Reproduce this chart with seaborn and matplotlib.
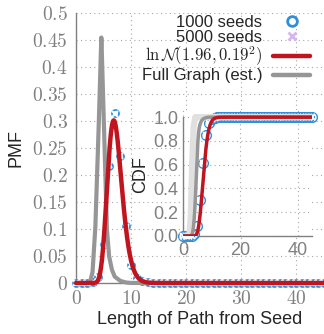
import math
import numpy as np
import pandas as pd
import seaborn as sns
import matplotlib
matplotlib.use("Agg")
import matplotlib.pyplot as plt
from matplotlib.lines import Line2D
from matplotlib.ticker import FixedLocator, FuncFormatter

# ---- data -------------------------------------------------------------
lengths = [0, 1, 2, 3, 4, 5, 6, 7, 8, 9, 10, 11, 12, 13, 14, 15, 16, 17, 18, 19,
           20, 21, 22, 23, 24, 25, 26, 27, 28, 29, 30, 31, 32, 33, 34, 35, 36, 37,
           38, 39, 40, 41, 42, 43, 44, 45]
pmf_1000 = [0, 0, 0, 0.002, 0.011, 0.072, 0.217, 0.315, 0.235, 0.106, 0.033, 0.010,
            0.003, 0.001, 0, 0, 0, 0, 0, 0, 0, 0, 0, 0, 0, 0, 0, 0, 0, 0, 0, 0, 0,
            0, 0, 0, 0, 0, 0, 0, 0, 0, 0, 0, 0, 0]
pmf_5000 = [0, 0, 0, 0.002, 0.012, 0.070, 0.219, 0.313, 0.236, 0.104, 0.034, 0.009,
            0.003, 0.001, 0, 0, 0, 0, 0, 0, 0, 0, 0, 0, 0, 0, 0, 0, 0, 0, 0, 0, 0,
            0, 0, 0, 0, 0, 0, 0, 0, 0, 0, 0, 0, 0]

# fitted log-normal
ln_mu = 1.96
ln_sigma = 0.19

# full-graph estimate
full_x = [0, 2.5, 3.0, 3.5, 4.0, 4.6, 5.2, 5.6, 6.0, 6.5, 7.0, 8.0, 9.0, 10.0, 45]
full_y = [0, 0.0, 0.02, 0.10, 0.25, 0.457, 0.25, 0.10, 0.05, 0.025, 0.012, 0.004,
          0.001, 0.0, 0.0]

# reference CDF band in the inset
band_x = [0, 2.2, 2.7, 3.2, 3.7, 4.3, 45]
band_y = [0, 0.0, 0.15, 0.6, 0.92, 1.0, 1.0]

y_ticks = [0, 0.05, 0.1, 0.15, 0.2, 0.25, 0.3, 0.35, 0.4, 0.45, 0.5]
x_ticks = [0, 10, 20, 30, 40]
cdf_y_ticks = [0.0, 0.2, 0.4, 0.6, 0.8, 1.0]
cdf_x_ticks = [0, 20, 40]

# ---- style ------------------------------------------------------------
sns.set_style("white")
plt.rcParams["font.family"] = ["Liberation Sans", "DejaVu Sans"]
plt.rcParams["mathtext.fontset"] = "cm"

BLUE = "#2f8fd8"
LAV = "#d7b5f0"
RED = "#c0141e"
GRAY = "#969696"
LIGHT = "#e0e0e0"
AXIS = "#808080"

W, H = 324, 334
fig = plt.figure(figsize=(W / 100, H / 100), dpi=100)


def fr(x0, y0, x1, y1):
    """pixel box (top-left origin) -> figure fraction rect"""
    return [x0 / W, 1 - y1 / H, (x1 - x0) / W, (y1 - y0) / H]


# ---- derived curves ---------------------------------------------------
grid = np.linspace(0.01, 45, 1500)
ln_pdf = np.exp(-(np.log(grid) - ln_mu) ** 2 / (2 * ln_sigma ** 2)) / (
    grid * ln_sigma * math.sqrt(2 * math.pi))
ln_cdf = np.array([0.5 * (1 + math.erf((math.log(v) - ln_mu) / (ln_sigma * math.sqrt(2))))
                   for v in grid])

fx = np.array(full_x, float)
fy = np.array(full_y, float)
fine = np.linspace(0, 45, 1500)
fine_y = np.interp(fine, fx, fy)
full_cdf = np.concatenate([[0], np.cumsum((fine_y[1:] + fine_y[:-1]) / 2 * np.diff(fine))])
full_cdf = full_cdf / full_cdf[-1]

cdf_1000 = np.cumsum(pmf_1000)
cdf_1000 = cdf_1000 / cdf_1000[-1]
cdf_5000 = np.cumsum(pmf_5000)
cdf_5000 = cdf_5000 / cdf_5000[-1]

# ---- main PMF axes ----------------------------------------------------
ax = fig.add_axes(fr(76, 13, 324, 283))
ax.set_xlim(0, 45)
ax.set_ylim(0, 0.5)

sns.lineplot(x=lengths, y=pmf_1000, ax=ax, ls="", marker="o", markersize=5,
             markerfacecolor="none", markeredgecolor=BLUE, markeredgewidth=1.3,
             clip_on=False, zorder=3)
sns.lineplot(x=lengths, y=pmf_5000, ax=ax, ls="", marker="x", markersize=4.5,
             color=LAV, markeredgewidth=1.5, clip_on=False, zorder=3)
sns.lineplot(x=fine, y=fine_y, ax=ax, color=GRAY, lw=3, zorder=4, clip_on=False)
sns.lineplot(x=np.concatenate([[0], grid]), y=np.concatenate([[0], ln_pdf]), ax=ax,
             color=RED, lw=3.2, zorder=5, clip_on=False)

for s in ["top", "right"]:
    ax.spines[s].set_visible(False)
for s in ["left", "bottom"]:
    ax.spines[s].set_color(AXIS)
    ax.spines[s].set_linewidth(1.0)

ax.yaxis.set_major_locator(FixedLocator(y_ticks))
ax.xaxis.set_major_locator(FixedLocator(x_ticks))
ax.yaxis.set_major_formatter(FuncFormatter(lambda v, p: f"${v:g}$"))
ax.xaxis.set_major_formatter(FuncFormatter(lambda v, p: f"${v:g}$"))
ax.tick_params(axis="both", direction="in", length=4, color=AXIS, labelcolor=AXIS,
               labelsize=14)
ax.tick_params(axis="y", pad=6)
ax.tick_params(axis="x", pad=5)
ax.grid(True, ls=(0, (1, 3)), color="#a8a8a8", lw=0.8)
ax.set_axisbelow(True)

ax.set_ylabel("PMF", fontsize=13)
ax.yaxis.set_label_coords((25 - 76) / 248, 0.5)
ax.set_xlabel("Length of Path from Seed", fontsize=13)
ax.xaxis.set_label_coords(0.5, (283 - 311) / 270)

# legend
handles = [
    Line2D([], [], ls="", marker="o", markersize=7, markerfacecolor="none",
           markeredgecolor=BLUE, markeredgewidth=2),
    Line2D([], [], ls="", marker="x", markersize=6, color=LAV, markeredgewidth=2),
    Line2D([], [], color=RED, lw=3.2),
    Line2D([], [], color=GRAY, lw=3.2),
]
labels = ["1000 seeds", "5000 seeds", r"$\ln\mathcal{N}(1.96, 0.19^2)$",
          "Full Graph (est.)"]
leg = fig.legend(handles, labels, loc="upper right", bbox_to_anchor=(310 / W, 1 - 15 / H),
                 frameon=False, markerfirst=False, fontsize=12, handlelength=2.2,
                 handletextpad=0.65, labelspacing=0.0, borderpad=0, borderaxespad=0)

# ---- inset CDF axes ---------------------------------------------------
ins = fig.add_axes(fr(183, 110, 312, 236))
ins.set_facecolor("white")
ins.set_xlim(0, 45)
ins.set_ylim(0, 1.06)

sns.lineplot(x=lengths, y=cdf_1000, ax=ins, ls="", marker="o", markersize=7,
             markerfacecolor="none", markeredgecolor=BLUE, markeredgewidth=1.0,
             clip_on=False, zorder=3)
sns.lineplot(x=lengths, y=cdf_5000, ax=ins, ls="", marker="x", markersize=5,
             color=LAV, markeredgewidth=1.3, clip_on=False, zorder=3)
sns.lineplot(x=band_x, y=band_y, ax=ins, color=LIGHT, lw=4.5, zorder=4)
sns.lineplot(x=fine, y=full_cdf, ax=ins, color=GRAY, lw=2.5, zorder=4)
sns.lineplot(x=np.concatenate([[0], grid]), y=np.concatenate([[0], ln_cdf]), ax=ins,
             color=RED, lw=2.5, zorder=5)

for s in ["top", "right"]:
    ins.spines[s].set_visible(False)
for s in ["left", "bottom"]:
    ins.spines[s].set_color(AXIS)
    ins.spines[s].set_linewidth(1.0)
ins.spines["left"].set_bounds(0, 1.0)

ins.yaxis.set_major_locator(FixedLocator(cdf_y_ticks))
ins.xaxis.set_major_locator(FixedLocator(cdf_x_ticks))
ins.xaxis.set_minor_locator(FixedLocator([10, 30]))
ins.yaxis.set_major_formatter(FuncFormatter(lambda v, p: f"{v:.1f}"))
ins.xaxis.set_major_formatter(FuncFormatter(lambda v, p: f"{v:g}"))
ins.tick_params(axis="y", direction="out", length=3, color=AXIS, labelcolor=AXIS,
                labelsize=13, pad=0.5)
ins.tick_params(axis="x", which="both", direction="in", length=3, color=AXIS,
                labelcolor=AXIS, labelsize=13, pad=4)
ins.grid(True, ls=(0, (1, 3)), color="#a8a8a8", lw=0.8)
ins.set_axisbelow(True)

ins.set_ylabel("CDF", fontsize=13)
ins.yaxis.set_label_coords((149 - 183) / 129, (236 - 175) / 126)

fig.savefig("out.png", dpi=100)
